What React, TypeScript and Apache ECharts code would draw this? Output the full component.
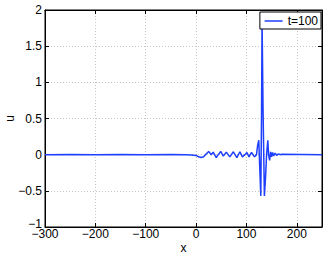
import React, { useEffect, useRef } from "react";
import * as echarts from "echarts";

const xs = [-300, -250, -200, -150, -100, -50, -20, -10, 0, 5, 10, 15, 20, 25, 30, 34, 40, 44, 49, 54, 60, 67, 74, 81, 87, 92, 97, 101, 105, 110, 116, 120, 122, 124.5, 126.5, 128.5, 130, 131, 133, 135.6, 138, 140, 142.4, 144, 146, 148, 150, 152, 154, 157, 160, 163, 167, 170, 250];
const us = [0, 0.002, 0, 0.002, 0, 0.002, 0, -0.005, -0.01, -0.03, -0.04, -0.03, 0.01, 0.045, 0.0, 0.035, -0.04, 0.0, 0.045, -0.02, 0.035, -0.03, 0.04, -0.04, 0.04, -0.03, 0.0, 0.03, -0.03, 0.03, -0.03, 0.0, 0.12, 0.2, -0.2, -0.57, 0.6, 1.85, 0.6, -0.57, -0.3, 0.0, 0.2, 0.0, -0.08, 0.04, -0.03, 0.03, -0.015, 0.02, -0.01, 0.01, 0, 0.005, 0];
const seriesName = "t=100";
const xTicks = { min: -300, max: 250, interval: 100 };
const yTicks = { min: -1, max: 2, interval: 0.5 };

const fmt = (v: number) => String(v).replace("-", "\u2212");
const yfmt = (v: number) => (v === yTicks.min ? "{low|" + fmt(v) + "}" : fmt(v));

export default function App() {
  const ref = useRef<HTMLDivElement>(null);
  useEffect(() => {
    if (!ref.current) return;
    const chart = echarts.init(ref.current, undefined, { renderer: "svg" });
    const font = "Liberation Sans";
    const axisLine = { show: true, onZero: false, lineStyle: { color: "#000", width: 1 } };
    const tick = { show: true, inside: true, length: 4, lineStyle: { color: "#000" } };
    chart.setOption({
      animation: false,
      backgroundColor: "#fff",
      textStyle: { fontFamily: font },
      grid: {
        left: 45,
        right: 5,
        top: 10,
        bottom: 30,
        show: true,
        borderColor: "#000",
        borderWidth: 1,
        containLabel: false,
        outerBoundsMode: "none",
      },
      legend: {
        right: 6,
        top: 12,
        backgroundColor: "#fff",
        borderColor: "#000",
        borderWidth: 1,
        borderRadius: 0,
        padding: [3, 3, 2, 4],
        itemWidth: 18,
        itemHeight: 14,
        itemGap: 4,
        z: 10,
        itemStyle: { opacity: 0 },
        lineStyle: { color: "#1f3fff", width: 1.5 },
        textStyle: { fontFamily: font, fontSize: 12, color: "#000", padding: [0, 0, 0, 0] },
        data: [{ name: seriesName }],
      },
      xAxis: [
        {
          type: "value",
          min: xTicks.min,
          max: xTicks.max,
          interval: xTicks.interval,
          name: "x",
          nameLocation: "middle",
          nameGap: 15,
          nameMoveOverlap: false,
          nameTextStyle: { fontFamily: font, fontSize: 12, color: "#000" },
          axisLine,
          axisTick: tick,
          axisLabel: { fontFamily: font, fontSize: 12, color: "#000", margin: 1, formatter: fmt, showMaxLabel: false },
          splitLine: { show: true, lineStyle: { color: "#c4c4c4", type: [1, 2], width: 1 } },
        },
        {
          type: "value",
          position: "top",
          min: xTicks.min,
          max: xTicks.max,
          interval: xTicks.interval,
          axisLine,
          axisTick: tick,
          axisLabel: { show: false },
          splitLine: { show: false },
        },
      ],
      yAxis: [
        {
          type: "value",
          min: yTicks.min,
          max: yTicks.max,
          interval: yTicks.interval,
          name: "u",
          nameLocation: "middle",
          nameGap: 29,
          nameMoveOverlap: false,
          nameTextStyle: { fontFamily: font, fontSize: 12, color: "#000" },
          axisLine,
          axisTick: tick,
          axisLabel: {
            fontFamily: font,
            fontSize: 12,
            color: "#000",
            margin: 3,
            formatter: yfmt,
            rich: { low: { fontFamily: font, fontSize: 12, color: "#000", padding: [0, 0, 6, 0] } },
          },
          splitLine: { show: true, lineStyle: { color: "#c4c4c4", type: [1, 2], width: 1 } },
        },
        {
          type: "value",
          position: "right",
          min: yTicks.min,
          max: yTicks.max,
          interval: yTicks.interval,
          axisLine,
          axisTick: tick,
          axisLabel: { show: false },
          splitLine: { show: false },
        },
      ],
      series: [
        {
          name: seriesName,
          type: "line",
          data: xs.map((x, i) => [x, us[i]]),
          symbol: "none",
          showSymbol: false,
          clip: true,
          lineStyle: { color: "#1f3fff", width: 1.5 },
          itemStyle: { color: "#1f3fff" },
          z: 2,
        },
      ],
    });
    return () => chart.dispose();
  }, []);
  return <div ref={ref} style={{ width: 327, height: 257, position: "absolute", left: 0, top: 0 }} />;
}
